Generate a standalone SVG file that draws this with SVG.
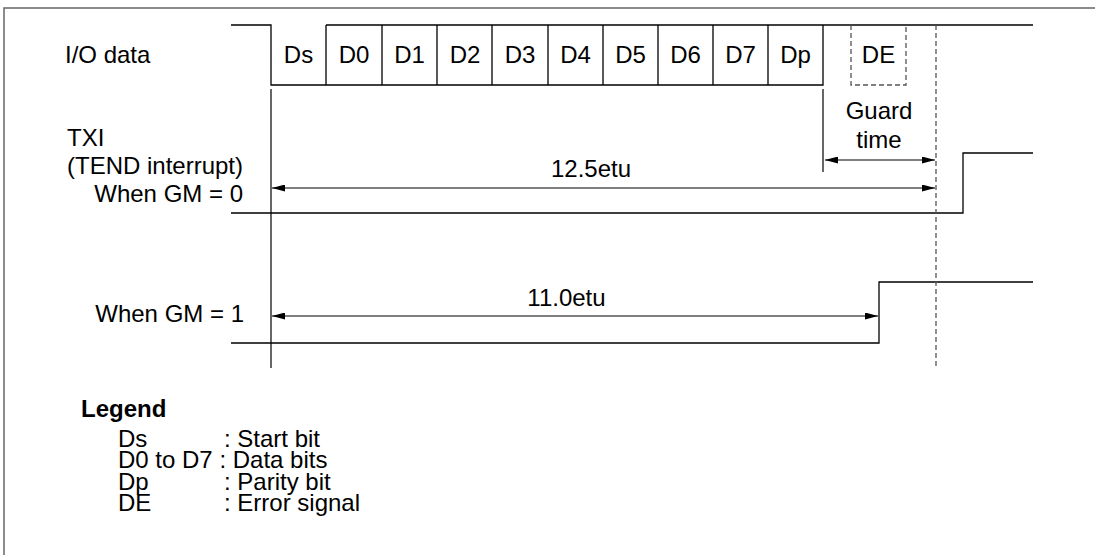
<svg xmlns="http://www.w3.org/2000/svg" width="1095" height="555" viewBox="0 0 1095 555">
<style>
text{font-family:"Liberation Sans",Arial,sans-serif;font-size:24px;fill:#000}
.c{text-anchor:middle}
.e{text-anchor:end}
.b{font-weight:bold}
.s{fill:none;stroke:#000;stroke-width:1.3}
.d{fill:none;stroke:#555;stroke-width:1.3;stroke-dasharray:5 3}
.f{fill:none;stroke:#666;stroke-width:1.5}
.a{fill:none;stroke:#000;stroke-width:1.2}
</style>
<defs>
<marker id="ah" viewBox="0 0 13 7" refX="13" refY="3.5" markerWidth="13" markerHeight="7" markerUnits="userSpaceOnUse" orient="auto-start-reverse">
<path d="M0,0 L13,3.5 L0,7 Z" fill="#000"/>
</marker>
</defs>
<path class="f" d="M4,555 V8 H1095"/>
<g id="labels">
<text x="65" y="63">I/O data</text>
<text x="67" y="146">TXI</text>
<text x="67" y="174">(TEND interrupt)</text>
<text class="e" x="243" y="202">When GM = 0</text>
<text class="e" x="244" y="322">When GM = 1</text>
</g>
<g id="io-data">
<path class="s" d="M231,25 H271 V85 H823 V25"/>
<path class="s" d="M326,25 H1033"/>
<path class="s" d="M326,25 V85 M382,25 V85 M437,25 V85 M492,25 V85 M548,25 V85 M603,25 V85 M658,25 V85 M713,25 V85 M768,25 V85"/>
<text class="c" x="298.5" y="63">Ds</text>
<text class="c" x="354" y="63">D0</text>
<text class="c" x="409.5" y="63">D1</text>
<text class="c" x="465" y="63">D2</text>
<text class="c" x="520" y="63">D3</text>
<text class="c" x="575.5" y="63">D4</text>
<text class="c" x="630.5" y="63">D5</text>
<text class="c" x="685.5" y="63">D6</text>
<text class="c" x="740.5" y="63">D7</text>
<text class="c" x="795.5" y="63">Dp</text>
</g>
<g id="de">
<path class="d" d="M851,25 V85 H906 V25"/>
<text class="c" x="878.5" y="63">DE</text>
</g>
<g id="gm0">
<path class="s" d="M231,213 H963 V153 H1033"/>
</g>
<g id="gm1">
<path class="s" d="M231,343 H879 V282 H1033"/>
</g>
<g id="connectors">
<path class="a" d="M271,89 V368"/>
<path class="a" d="M823,89 V172"/>
<path class="d" d="M936,25 V368"/>
<path class="a" d="M825,160 H935" marker-start="url(#ah)" marker-end="url(#ah)"/>
<path class="a" d="M272,188 H935" marker-start="url(#ah)" marker-end="url(#ah)"/>
<path class="a" d="M272,316 H878" marker-start="url(#ah)" marker-end="url(#ah)"/>
</g>
<g id="dimension-labels">
<text class="c" x="879" y="119">Guard</text>
<text class="c" x="879" y="148">time</text>
<text class="c" x="591" y="177">12.5etu</text>
<text class="c" x="566.5" y="306">11.0etu</text>
</g>
<g id="legend">
<text class="b" x="81" y="417">Legend</text>
<text x="118" y="447">Ds</text>
<text x="224" y="447">: Start bit</text>
<text x="118" y="468">D0 to D7 : Data bits</text>
<text x="118" y="490">Dp</text>
<text x="224" y="490">: Parity bit</text>
<text x="118" y="511">DE</text>
<text x="224" y="511">: Error signal</text>
</g>
</svg>
